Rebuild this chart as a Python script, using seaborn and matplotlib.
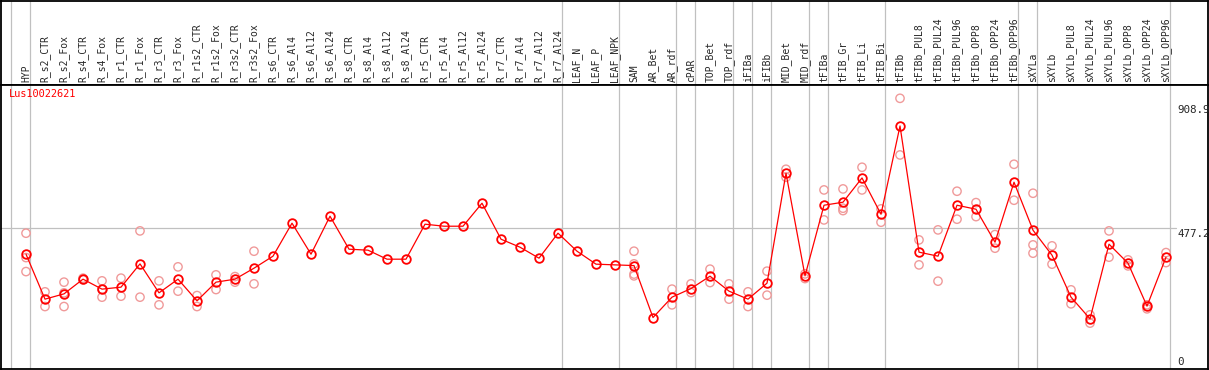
import matplotlib
matplotlib.use("Agg")
import matplotlib.pyplot as plt
import numpy as np
import pandas as pd
import seaborn as sns

gene = "Lus10022621"

samples = [
    "HYP", "R_s2_CTR", "R_s2_Fox", "R_s4_CTR", "R_s4_Fox", "R_r1_CTR", "R_r1_Fox",
    "R_r3_CTR", "R_r3_Fox", "R_r1s2_CTR", "R_r1s2_Fox", "R_r3s2_CTR", "R_r3s2_Fox",
    "R_s6_CTR", "R_s6_Al4", "R_s6_Al12", "R_s6_Al24", "R_s8_CTR", "R_s8_Al4",
    "R_s8_Al12", "R_s8_Al24", "R_r5_CTR", "R_r5_Al4", "R_r5_Al12", "R_r5_Al24",
    "R_r7_CTR", "R_r7_Al4", "R_r7_Al12", "R_r7_Al24", "LEAF_N", "LEAF_P", "LEAF_NPK",
    "SAM", "AR_Bet", "AR_rdf", "cPAR", "TOP_Bet", "TOP_rdf", "iFIBa", "iFIBb",
    "MID_Bet", "MID_rdf", "tFIBa", "tFIB_Gr", "tFIB_Li", "tFIB_Bi", "tFIBb",
    "tFIBb_PUL8", "tFIBb_PUL24", "tFIBb_PUL96", "tFIBb_OPP8", "tFIBb_OPP24", "tFIBb_OPP96",
    "sXYLa", "sXYLb", "sXYLb_PUL8", "sXYLb_PUL24", "sXYLb_PUL96", "sXYLb_OPP8",
    "sXYLb_OPP24", "sXYLb_OPP96",
]

means = [
    387.2, 230.8, 249.2, 300.3, 265.6, 272.5, 353.5, 252.7, 300.3, 224.9, 289.9,
    300.3, 338.5, 380.3, 495.0, 387.2, 519.3, 404.6, 401.1, 369.8, 369.8, 491.5,
    484.5, 484.5, 564.5, 439.3, 411.5, 373.3, 460.2, 397.6, 352.5, 350.0, 347.6,
    166.8, 237.7, 267.6, 310.7, 258.6, 230.8, 286.4, 668.8, 311.8, 557.5, 568.0,
    652.4, 526.2, 833.2, 394.2, 380.3, 557.5, 543.6, 428.9, 637.5, 470.6, 383.7,
    237.7, 162.3, 422.0, 355.9, 206.5, 376.8,
]

replicates = [
    [460.2, 375.4, 326.7], [256.2, 205.1], [289.9, 205.1, 252.6], [303.8, 298.0],
    [294.4, 237.7, 264.7], [303.8, 241.2], [468.2, 237.7], [294.4, 211.0],
    [343.1, 258.6], [243.3, 205.1], [315.3, 264.2], [309.3, 289.9], [397.6, 284.0],
    [], [], [], [], [], [], [], [], [], [], [], [], [], [], [], [], [], [], [],
    [397.6, 353.5, 318.0, 311.8], [], [265.6, 211.0], [284.0, 253.7], [335.1, 288.5],
    [284.0, 230.8], [256.2, 205.1], [328.1, 244.7], [682.6, 654.8], [318.7, 302.4],
    [610.7, 506.4], [614.2, 547.1, 538.8], [689.6, 610.7], [544.7, 498.4],
    [929.4, 732.4], [436.9, 350.0], [471.7, 293.4], [606.2, 508.9], [566.6, 517.9],
    [455.3, 408.1], [700.0, 574.9], [599.2, 419.5, 390.7], [416.1, 352.5],
    [263.1, 214.5], [176.2, 147.4], [468.2, 376.8], [367.4, 346.5], [211.0, 197.1],
    [392.8, 358.0],
]

# last sample of each tissue group (a grey divider follows it)
group_ends = ["HYP", "R_r7_Al24", "LEAF_NPK", "AR_rdf", "cPAR", "TOP_rdf", "iFIBa",
              "iFIBb", "MID_rdf", "tFIBa", "tFIB_Bi", "tFIBb_OPP96", "sXYLa", "sXYLb_OPP96"]

tick_values = [0, 477.2, 908.9]

sns.set_style("white")
plt.rcParams["font.family"] = ["DejaVu Sans Mono", "DejaVu Sans"]

pos = np.arange(len(samples))
mean_df = pd.DataFrame({"pos": pos, "value": means})
rep_df = pd.DataFrame(
    [(p, v) for p, reps in zip(pos, replicates) for v in reps], columns=["pos", "value"]
)

W, H = 1209, 370
fig = plt.figure(figsize=(W / 100, H / 100), dpi=100)
head = fig.add_axes([1 / W, (H - 85) / H, (W - 2) / W, 84.4 / H])
ax = fig.add_axes([1 / W, 1.2 / H, (W - 2) / W, (284 - 0.2) / H])

xlim = (-1.316, len(samples) + 1.21)
grey = "#c0c0c0"

for a in (head, ax):
    a.set_xlim(*xlim)
    a.set_xticks([])
    a.set_yticks([])
    for s in a.spines.values():
        s.set_color("black")
        s.set_linewidth(1.3)
    a.axvline(-1 + 0.22, color=grey, lw=0.9, zorder=0)
    for g in group_ends:
        a.axvline(samples.index(g) + 0.22, color=grey, lw=0.9, zorder=0)

head.set_ylim(0, 1)
for p, name in zip(pos, samples):
    head.text(p, 0.035, name, rotation=90, ha="center", va="bottom", fontsize=7.0)

ax.set_ylim(-11.5, 975.7)
label_x = 0.9735
ax.axhline(tick_values[1], xmin=0, xmax=label_x, color=grey, lw=0.9, zorder=0)

sns.scatterplot(data=rep_df, x="pos", y="value", ax=ax, marker="o", s=36,
                facecolors="none", edgecolor="#f09a9a", linewidth=1.0, zorder=2,
                legend=False)
sns.lineplot(data=mean_df, x="pos", y="value", ax=ax, color="red", lw=0.9,
             marker="o", markersize=6.2, markerfacecolor="none",
             markeredgecolor="red", markeredgewidth=1.3, zorder=3)
ax.set_xlabel("")
ax.set_ylabel("")

for v in tick_values[1:]:
    ax.annotate(f"{v:g}", xy=(label_x, v), xycoords=("axes fraction", "data"),
                xytext=(1, -1), textcoords="offset pixels", ha="left", va="top",
                fontsize=7.8)
ax.annotate(f"{tick_values[0]:g}", xy=(label_x, 0), xycoords="axes fraction",
            xytext=(1, 2), textcoords="offset pixels", ha="left", va="bottom",
            fontsize=7.8)

ax.annotate(gene, xy=(0, 1), xycoords="axes fraction", xytext=(8, -4),
            textcoords="offset pixels", ha="left", va="top", color="red", fontsize=7.4)

fig.savefig("out.png", dpi=100)
